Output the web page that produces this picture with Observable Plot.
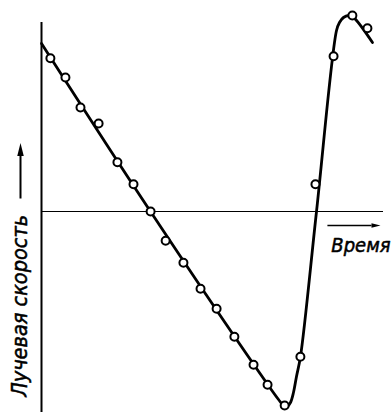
<!DOCTYPE html>
<html>
<head>
<meta charset="utf-8">
<script src="https://cdn.jsdelivr.net/npm/d3@7"></script>
<script src="https://cdn.jsdelivr.net/npm/@observablehq/plot@0.6"></script>
<style>
  html, body { margin: 0; padding: 0; background: #fff; }
  #chart svg { display: block; }
</style>
</head>
<body>
<div id="chart"></div>
<script>
const obsTime = [2.6, 7.0, 11.4, 16.7, 22.2, 26.9, 31.9, 36.3, 41.5, 46.5, 51.2, 56.4, 62.0, 66.1, 71.1, 75.7, 80.1, 85.4, 90.9, 95.3];
const obsVel  = [38.3, 33.5, 26.0, 22.0, 12.3, 6.8, 0.0, -7.3, -12.8, -19.3, -24.3, -31.3, -38.3, -43.3, -48.5, -36.3, 6.8, 38.8, 49.0, 45.8];

// Fitted velocity curve
const curveTime = [0, 31.87, 66.96, 69.3, 70.76, 71.93, 72.81, 73.68, 74.56, 75.73, 80.41, 86.26, 87.13, 88.3, 89.77, 90.94, 96.78];
const curveVel  = [42, 0, -44.25, -47, -48.5, -48.75, -47.75, -45.25, -41.25, -36.25, 0, 45.25, 47.25, 48.5, 49, 48.75, 42.25];

// Labels
const yLabel = "Лучевая скорость";
const xLabel = "Время";

const obs = obsTime.map((t, i) => ({t, v: obsVel[i]}));
const curve = curveTime.map((t, i) => ({t, v: curveVel[i]}));

// elongated filled arrowhead symbol (points up)
const headSymbol = {
  draw(context, size) {
    const r = Math.sqrt(size / Math.PI);
    context.moveTo(0, -r);
    context.lineTo(0.5 * r, r);
    context.lineTo(-0.5 * r, r);
    context.closePath();
  }
};

const font = "'DejaVu Sans Condensed', 'DejaVu Sans', sans-serif";

const chart = Plot.plot({
  width: 392,
  height: 412,
  marginLeft: 41,
  marginRight: 9,
  marginTop: 0,
  marginBottom: 0,
  x: {domain: [0, 100], axis: null},
  y: {domain: [-50.25, 52.75], axis: null},
  style: {background: "#fff", overflow: "visible"},
  marks: [
    // velocity axis
    Plot.ruleX([0], {y1: 47.25, y2: -50.25, stroke: "#000", strokeWidth: 2}),
    // zero line
    Plot.ruleY([0], {x1: 0, x2: 100, stroke: "#000", strokeWidth: 1.2}),
    // curve
    Plot.line(curve, {x: "t", y: "v", curve: "catmull-rom", stroke: "#000", strokeWidth: 2.8}),
    // observations
    Plot.dot(obs, {x: "t", y: "v", r: 4, fill: "#fff", stroke: "#000", strokeWidth: 2}),
    // y-axis arrow
    Plot.link([{x1: -6.14, y1: 3.25, x2: -6.14, y2: 15}], {x1: "x1", y1: "y1", x2: "x2", y2: "y2", stroke: "#000", strokeWidth: 2}),
    Plot.dot([{x: -6.14, y: 15.5}], {x: "x", y: "y", symbol: headSymbol, r: 6.5, fill: "#000", stroke: "none"}),
    // y label
    Plot.text([yLabel], {x: -6.14, y: -23.6, rotate: -90, text: d => d, fontSize: 21.5, fontStyle: "italic", fontFamily: font, fill: "#000", stroke: "#000", strokeWidth: 0.5, textAnchor: "middle", lineAnchor: "middle"}),
    // time arrow
    Plot.link([{x1: 83.6, y1: -3.5, x2: 96.5, y2: -3.5}], {x1: "x1", y1: "y1", x2: "x2", y2: "y2", stroke: "#000", strokeWidth: 1.6}),
    Plot.dot([{x: 97.8, y: -3.5}], {x: "x", y: "y", symbol: headSymbol, r: 4.5, rotate: 90, fill: "#000", stroke: "none"}),
    // time label
    Plot.text([xLabel], {x: 93.4, y: -8.4, text: d => d, fontSize: 20, fontStyle: "italic", fontFamily: font, fill: "#000", stroke: "#000", strokeWidth: 0.5, textAnchor: "middle", lineAnchor: "middle"})
  ]
});

document.getElementById("chart").appendChild(chart);
</script>
</body>
</html>
